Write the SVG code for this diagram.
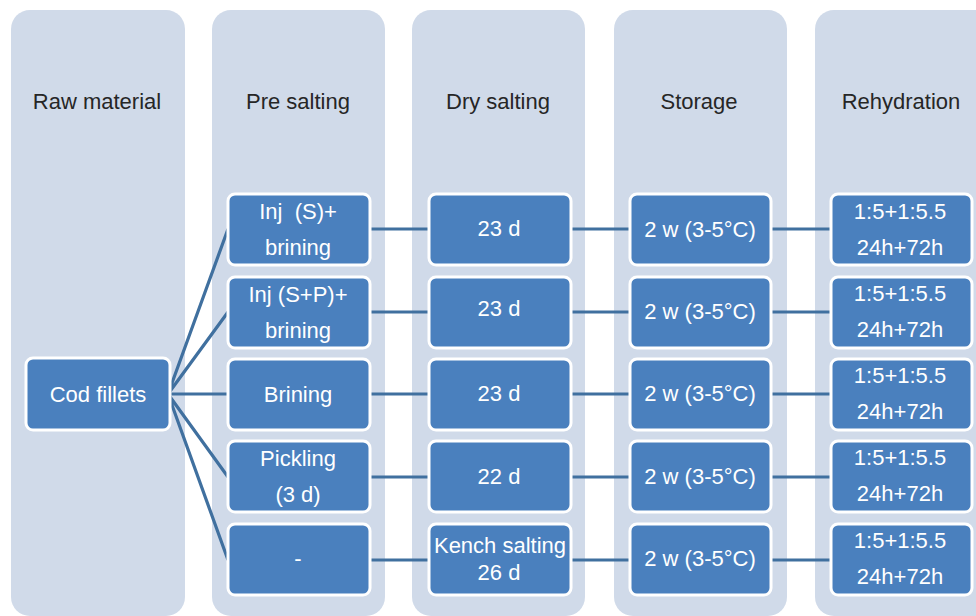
<svg xmlns="http://www.w3.org/2000/svg" width="976" height="616" viewBox="0 0 976 616">
  <style>
    .lane { fill: #D0DAE9; }
    .head { font-family: "Liberation Sans", Arial, sans-serif; font-size: 22px; fill: #262626; text-anchor: middle; dominant-baseline: central; }
    .box { fill: #4A80BE; stroke: #FFFFFF; stroke-width: 3; }
    .lbl { font-family: "Liberation Sans", Arial, sans-serif; font-size: 22px; fill: #FFFFFF; text-anchor: middle; dominant-baseline: central; }
    .wire { stroke: #40709F; stroke-width: 3.2; fill: none; stroke-linecap: butt; }
  </style>

  <rect width="976" height="616" fill="#FFFFFF"/>

  <!-- stage lanes -->
  <g id="lanes">
    <rect class="lane" x="11" y="10" width="174" height="606" rx="19"/>
    <rect class="lane" x="212" y="10" width="173" height="606" rx="19"/>
    <rect class="lane" x="412" y="10" width="173" height="606" rx="19"/>
    <rect class="lane" x="614" y="10" width="173" height="606" rx="19"/>
    <rect class="lane" x="815" y="10" width="180" height="606" rx="19"/>
    <text class="head" x="97" y="101">Raw material</text>
    <text class="head" x="298" y="101">Pre salting</text>
    <text class="head" x="498" y="101">Dry salting</text>
    <text class="head" x="699" y="101">Storage</text>
    <text class="head" x="901" y="101">Rehydration</text>
  </g>

  <!-- connectors -->
  <g id="connectors">
    <path class="wire" d="M168 394 L228 229 M168 394 L228 312 M168 394 L228 394 M168 394 L228 477 M168 394 L228 560"/>
    <path class="wire" d="M369 229 H429 M369 312 H429 M369 394 H429 M369 477 H429 M369 560 H429"/>
    <path class="wire" d="M571 229 H630 M571 312 H630 M571 394 H630 M571 477 H630 M571 560 H630"/>
    <path class="wire" d="M770 229 H831 M770 312 H831 M770 394 H831 M770 477 H831 M770 560 H831"/>
  </g>

  <!-- raw material -->
  <g id="cod-fillets">
    <rect class="box" x="26" y="358" width="144" height="72" rx="7"/>
    <text class="lbl" x="98" y="394">Cod fillets</text>
  </g>

  <!-- pre salting -->
  <g id="pre-1">
    <rect class="box" x="228" y="194" width="142" height="71" rx="7"/>
    <text class="lbl" x="298" y="211">Inj&#160; (S)+</text>
    <text class="lbl" x="298" y="247">brining</text>
  </g>
  <g id="pre-2">
    <rect class="box" x="228" y="277" width="142" height="71" rx="7"/>
    <text class="lbl" x="298" y="294">Inj (S+P)+</text>
    <text class="lbl" x="298" y="330">brining</text>
  </g>
  <g id="pre-3">
    <rect class="box" x="228" y="359" width="142" height="71" rx="7"/>
    <text class="lbl" x="298" y="394">Brining</text>
  </g>
  <g id="pre-4">
    <rect class="box" x="228" y="441" width="142" height="71" rx="7"/>
    <text class="lbl" x="298" y="458">Pickling</text>
    <text class="lbl" x="298" y="494">(3 d)</text>
  </g>
  <g id="pre-5">
    <rect class="box" x="228" y="524" width="142" height="71" rx="7"/>
    <text class="lbl" x="298" y="558">-</text>
  </g>

  <!-- dry salting -->
  <g id="dry-1">
    <rect class="box" x="429" y="194" width="142" height="71" rx="7"/>
    <text class="lbl" x="499" y="228">23 d</text>
  </g>
  <g id="dry-2">
    <rect class="box" x="429" y="277" width="142" height="71" rx="7"/>
    <text class="lbl" x="499" y="308">23 d</text>
  </g>
  <g id="dry-3">
    <rect class="box" x="429" y="359" width="142" height="71" rx="7"/>
    <text class="lbl" x="499" y="393">23 d</text>
  </g>
  <g id="dry-4">
    <rect class="box" x="429" y="441" width="142" height="71" rx="7"/>
    <text class="lbl" x="499" y="476">22 d</text>
  </g>
  <g id="dry-5">
    <rect class="box" x="429" y="524" width="142" height="71" rx="7"/>
    <text class="lbl" x="500" y="545">Kench salting</text>
    <text class="lbl" x="499" y="572">26 d</text>
  </g>

  <!-- storage -->
  <g id="store-1">
    <rect class="box" x="630" y="194" width="141" height="71" rx="7"/>
    <text class="lbl" x="700" y="229">2 w (3-5°C)</text>
  </g>
  <g id="store-2">
    <rect class="box" x="630" y="277" width="141" height="71" rx="7"/>
    <text class="lbl" x="700" y="311">2 w (3-5°C)</text>
  </g>
  <g id="store-3">
    <rect class="box" x="630" y="359" width="141" height="71" rx="7"/>
    <text class="lbl" x="700" y="393">2 w (3-5°C)</text>
  </g>
  <g id="store-4">
    <rect class="box" x="630" y="441" width="141" height="71" rx="7"/>
    <text class="lbl" x="700" y="476">2 w (3-5°C)</text>
  </g>
  <g id="store-5">
    <rect class="box" x="630" y="524" width="141" height="71" rx="7"/>
    <text class="lbl" x="700" y="558">2 w (3-5°C)</text>
  </g>

  <!-- rehydration -->
  <g id="rehyd-1">
    <rect class="box" x="831" y="194" width="141" height="71" rx="7"/>
    <text class="lbl" x="900" y="211">1:5+1:5.5</text>
    <text class="lbl" x="900" y="247">24h+72h</text>
  </g>
  <g id="rehyd-2">
    <rect class="box" x="831" y="277" width="141" height="71" rx="7"/>
    <text class="lbl" x="900" y="293">1:5+1:5.5</text>
    <text class="lbl" x="900" y="329">24h+72h</text>
  </g>
  <g id="rehyd-3">
    <rect class="box" x="831" y="359" width="141" height="71" rx="7"/>
    <text class="lbl" x="900" y="375">1:5+1:5.5</text>
    <text class="lbl" x="900" y="411">24h+72h</text>
  </g>
  <g id="rehyd-4">
    <rect class="box" x="831" y="441" width="141" height="71" rx="7"/>
    <text class="lbl" x="900" y="457">1:5+1:5.5</text>
    <text class="lbl" x="900" y="493">24h+72h</text>
  </g>
  <g id="rehyd-5">
    <rect class="box" x="831" y="524" width="141" height="71" rx="7"/>
    <text class="lbl" x="900" y="540">1:5+1:5.5</text>
    <text class="lbl" x="900" y="576">24h+72h</text>
  </g>
</svg>
